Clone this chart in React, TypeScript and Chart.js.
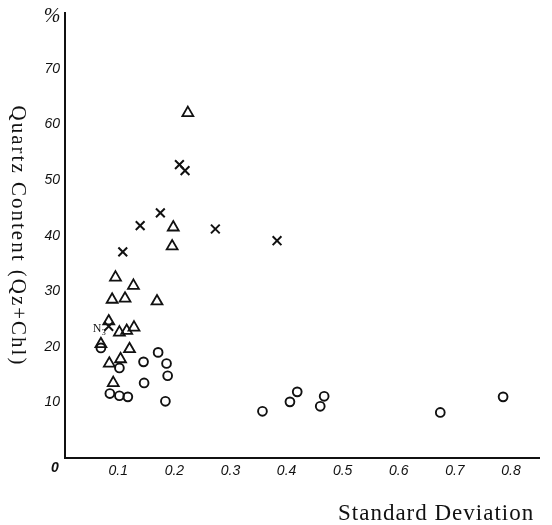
import React, { useEffect, useRef } from 'react';
import { Chart, registerables } from 'chart.js';

Chart.register(...registerables);

// Crosses (×)
const crossX = [0.175, 0.139, 0.273, 0.108, 0.083, 0.209, 0.219, 0.383];
const crossY = [44.1, 41.8, 41.2, 37.1, 23.7, 52.8, 51.7, 39.1];

// Triangles (△)
const triX = [0.224, 0.198, 0.196, 0.095, 0.127, 0.089, 0.112, 0.169, 0.083, 0.102, 0.115, 0.128, 0.069, 0.12, 0.084, 0.104, 0.091];
const triY = [62.1, 41.5, 38.1, 32.5, 31.0, 28.5, 28.7, 28.2, 24.6, 22.6, 22.9, 23.5, 20.5, 19.6, 17.0, 17.8, 13.5];

// Circles (○)
const circX = [0.069, 0.171, 0.145, 0.186, 0.102, 0.188, 0.146, 0.085, 0.102, 0.117, 0.184, 0.357, 0.406, 0.419, 0.46, 0.467, 0.674, 0.786];
const circY = [19.8, 19.0, 17.3, 17.0, 16.2, 14.8, 13.5, 11.6, 11.2, 11.0, 10.2, 8.4, 10.1, 11.9, 9.3, 11.1, 8.2, 11.0];

const xTicks = [0.1, 0.2, 0.3, 0.4, 0.5, 0.6, 0.7, 0.8];
const yTicks = [10, 20, 30, 40, 50, 60, 70];

const xTitle = 'Standard Deviation';
const yTitle = 'Quartz Content (Qz+Chl)';

const toPts = (xs: number[], ys: number[]) => xs.map((x, i) => ({ x, y: ys[i] }));

const INK = '#111111';

export default function App() {
  const ref = useRef<HTMLCanvasElement>(null);

  useEffect(() => {
    if (!ref.current) return;
    const textPlugin = {
      id: 'texts',
      afterDraw(chart: any) {
        const ctx = chart.ctx as CanvasRenderingContext2D;
        ctx.save();
        ctx.fillStyle = INK;
        // y title, reading top to bottom
        ctx.save();
        ctx.translate(18, 236);
        ctx.rotate(Math.PI / 2);
        (ctx as any).letterSpacing = '2px';
        ctx.font = '21px "Liberation Serif"';
        ctx.textAlign = 'center';
        ctx.textBaseline = 'middle';
        ctx.fillText(yTitle, 0, 0);
        ctx.restore();
        // x title
        ctx.save();
        (ctx as any).letterSpacing = '1px';
        ctx.font = '23px "Liberation Serif"';
        ctx.textAlign = 'left';
        ctx.textBaseline = 'alphabetic';
        ctx.fillText(xTitle, 338, 520);
        ctx.restore();
        // % unit and origin 0
        ctx.font = 'italic 20px "Liberation Serif"';
        ctx.textAlign = 'center';
        ctx.textBaseline = 'middle';
        ctx.fillText('%', 52, 17);
        ctx.font = 'italic bold 14px "Liberation Sans"';
        ctx.fillText('0', 55, 468);
        // N3 annotation
        const xs = chart.scales.x;
        const ys = chart.scales.y;
        const px = xs.getPixelForValue(crossX[4]);
        const py = ys.getPixelForValue(crossY[4]);
        ctx.textAlign = 'left';
        ctx.textBaseline = 'alphabetic';
        ctx.font = '12px "Liberation Serif"';
        ctx.fillText('N', px - 16, py + 6);
        ctx.font = '8px "Liberation Serif"';
        ctx.fillText('3', px - 7, py + 9);
        ctx.restore();
      },
    };

    const tickFont = { family: '"Liberation Sans"', size: 14, style: 'italic' as const };

    const chart = new Chart(ref.current, {
      type: 'scatter',
      data: {
        datasets: [
          {
            label: 'triangles',
            data: toPts(triX, triY),
            pointStyle: 'triangle',
            pointRadius: 6.3,
            borderColor: INK,
            backgroundColor: 'rgba(0,0,0,0)',
            borderWidth: 1.8,
          },
          {
            label: 'crosses',
            data: toPts(crossX, crossY),
            pointStyle: 'crossRot',
            pointRadius: 6.2,
            borderColor: INK,
            backgroundColor: INK,
            borderWidth: 2,
          },
          {
            label: 'circles',
            data: toPts(circX, circY),
            pointStyle: 'circle',
            pointRadius: 4.4,
            borderColor: INK,
            backgroundColor: 'rgba(0,0,0,0)',
            borderWidth: 1.9,
          },
        ],
      },
      options: {
        responsive: false,
        animation: false,
        layout: { padding: { left: 0, right: 13, top: 12, bottom: 0 } },
        plugins: { legend: { display: false }, tooltip: { enabled: false } },
        scales: {
          x: {
            type: 'linear',
            min: 0.005,
            max: 0.85,
            grid: { display: false, drawTicks: false },
            border: { display: true, color: INK, width: 2 },
            afterFit: (s: any) => {
              s.height = 67;
            },
            afterBuildTicks: (s: any) => {
              s.ticks = xTicks.map((v) => ({ value: v }));
            },
            ticks: {
              padding: 5,
              color: INK,
              font: tickFont,
              maxRotation: 0,
              autoSkip: false,
              callback: (v: any) => Number(v).toFixed(1),
            },
          },
          y: {
            type: 'linear',
            min: 0,
            max: 80,
            grid: { display: false, drawTicks: false },
            border: { display: true, color: INK, width: 2 },
            afterFit: (s: any) => {
              s.width = 65;
            },
            afterBuildTicks: (s: any) => {
              s.ticks = yTicks.map((v) => ({ value: v }));
            },
            ticks: {
              padding: 5,
              color: INK,
              font: tickFont,
              autoSkip: false,
              callback: (v: any) => String(v),
            },
          },
        },
      },
      plugins: [textPlugin],
    });
    return () => chart.destroy();
  }, []);

  return (
    <div style={{ position: 'absolute', left: 0, top: 0, width: 552, height: 525, overflow: 'hidden', background: '#fff' }}>
      <canvas ref={ref} width={552} height={525} style={{ display: 'block' }} />
    </div>
  );
}
